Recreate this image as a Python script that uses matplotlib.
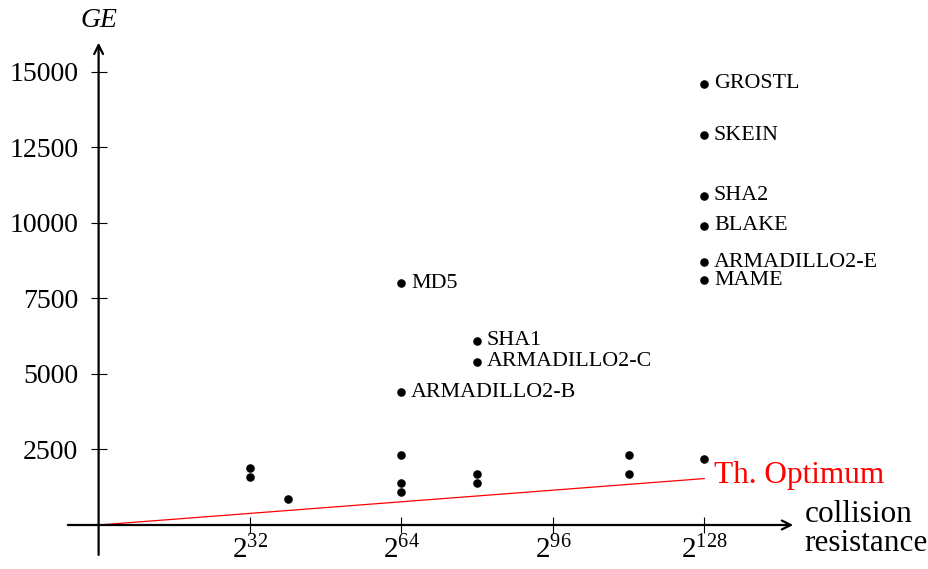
import matplotlib
matplotlib.use('Agg')
import matplotlib.pyplot as plt

plt.rcParams['font.family'] = ['Liberation Serif', 'DejaVu Serif']
plt.rcParams['mathtext.fontset'] = 'custom'
plt.rcParams['mathtext.rm'] = 'Liberation Serif'
plt.rcParams['mathtext.it'] = 'Liberation Serif:italic'

# collision resistance exponent (log2) and gate equivalents
labeled_x = [64, 64, 80, 80, 128, 128, 128, 128, 128, 128]
labeled_ge = [8000, 4400, 6100, 5400, 14600, 12900, 10900, 9900, 8700, 8100]
labeled_names = ['MD5', 'ARMADILLO2-B', 'SHA1', 'ARMADILLO2-C', 'GROSTL',
                 'SKEIN', 'SHA2', 'BLAKE', 'ARMADILLO2-E', 'MAME']

other_x = [32, 32, 40, 64, 64, 64, 80, 80, 112, 112, 128]
other_ge = [1900, 1600, 850, 2300, 1400, 1100, 1700, 1400, 2300, 1700, 2200]

optimum_x = [0, 128]
optimum_ge = [0, 1536]

x_ticks = [32, 64, 96, 128]
x_tick_labels = ['$2^{32}$', '$2^{64}$', '$2^{96}$', '$2^{128}$']
y_ticks = [2500, 5000, 7500, 10000, 12500, 15000]

fig = plt.figure(figsize=(9.29, 5.69), dpi=100)
ax = fig.add_axes([0, 0, 1, 1])
ax.set_xlim(-20.84, 175.5)
ax.set_ylim(-1456, 17372)

for s in ax.spines.values():
    s.set_visible(False)
ax.spines['left'].set_position(('data', 0))
ax.spines['bottom'].set_position(('data', 0))

# axes with arrow heads
arrow = dict(arrowstyle='->', lw=1.6, color='black', shrinkA=0, shrinkB=0,
             mutation_scale=16)
ax.annotate('', xy=(146.8, 0), xytext=(-6.5, 0), arrowprops=arrow)
ax.annotate('', xy=(0, 15960), xytext=(0, -990), arrowprops=arrow)

ax.set_xticks(x_ticks)
ax.set_xticklabels(x_tick_labels)
ax.set_yticks(y_ticks)
ax.set_yticklabels([str(v) for v in y_ticks])
ax.tick_params(direction='inout', length=11, width=0.8, labelsize=20,
               color='black')
ax.tick_params(axis='y', pad=9)
ax.tick_params(axis='x', pad=2, labelsize=21)

ax.plot(optimum_x, optimum_ge, color='red', lw=0.9, zorder=2)
ax.scatter(other_x, other_ge, s=38, color='black', zorder=3, linewidths=0)
ax.scatter(labeled_x, labeled_ge, s=38, color='black', zorder=3, linewidths=0)

for x, y, name in zip(labeled_x, labeled_ge, labeled_names):
    ax.annotate(name, xy=(x, y), xytext=(7, 0), textcoords='offset points',
                fontsize=15.8, va='center', ha='left')

ax.annotate('Th. Optimum', xy=(optimum_x[-1], optimum_ge[-1]),
            xytext=(7, 2), textcoords='offset points', color='red',
            fontsize=22.5, va='center', ha='left')

ax.annotate('collision', xy=(146.8, 0), xytext=(8, 2),
            textcoords='offset points', fontsize=22.5, va='baseline', ha='left')
ax.annotate('resistance', xy=(146.8, 0), xytext=(8, -18.7),
            textcoords='offset points', fontsize=22.5, va='baseline', ha='left')

ax.annotate('GE', xy=(0, 15960), xytext=(0, 7), textcoords='offset points',
            fontsize=20, style='italic', ha='center', va='bottom')

fig.savefig('out.png', dpi=100)
